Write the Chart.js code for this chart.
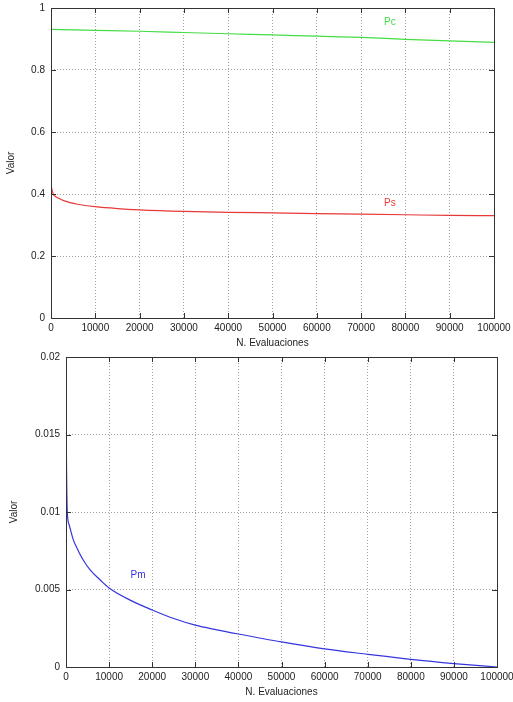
<!DOCTYPE html>
<html>
<head>
<meta charset="utf-8">
<script src="https://cdn.jsdelivr.net/npm/chart.js@4/dist/chart.umd.min.js"></script>
<style>
  html, body { margin: 0; padding: 0; background: #fff; }
  canvas { display: block; }
</style>
</head>
<body>
<canvas id="top" width="513" height="350"></canvas>
<canvas id="bottom" width="513" height="352"></canvas>
<script>
// ---- data ----
const xTicks = [0, 10000, 20000, 30000, 40000, 50000, 60000, 70000, 80000, 90000, 100000];
const xTickLabels = ["0", "10000", "20000", "30000", "40000", "50000", "60000", "70000", "80000", "90000", "100000"];
const yTicksTop = [0, 0.2, 0.4, 0.6, 0.8, 1];
const yTickLabelsTop = ["0", "0.2", "0.4", "0.6", "0.8", "1"];
const yTicksBottom = [0, 0.005, 0.01, 0.015, 0.02];
const yTickLabelsBottom = ["0", "0.005", "0.01", "0.015", "0.02"];

const pcX = [0, 10000, 20000, 30000, 40000, 50000, 60000, 70000, 80000, 90000, 100000];
const pcY = [0.931, 0.928, 0.925, 0.921, 0.917, 0.913, 0.909, 0.905, 0.899, 0.894, 0.889];

const psX = [0, 100, 200, 500, 1000, 1500, 3000, 6000, 10000, 15000, 20000, 30000, 40000, 50000, 60000, 70000, 80000, 90000, 100000];
const psY = [0.452, 0.425, 0.415, 0.400, 0.392, 0.388, 0.378, 0.367, 0.359, 0.353, 0.349, 0.344, 0.341, 0.339, 0.337, 0.335, 0.333, 0.331, 0.330];

const pmX = [0, 100, 300, 700, 1000, 1700, 2500, 4000, 5500, 8000, 10000, 15000, 20000, 25000, 30000, 35000, 40000, 50000, 60000, 70000, 80000, 90000, 100000];
const pmY = [0.0172, 0.0135, 0.0100, 0.0092, 0.0089, 0.0082, 0.0077, 0.0069, 0.0063, 0.0056, 0.0051, 0.0043, 0.00368, 0.00313, 0.00270, 0.00240, 0.00213, 0.00162, 0.00117, 0.00082, 0.00049, 0.00022, 0.0];

const seriesNames = ["Pc", "Ps", "Pm"];
const xTitle = "N. Evaluaciones";
const yTitle = "Valor";

// ---- helpers ----
const toPoints = (xs, ys) => xs.map((x, i) => ({ x: x, y: ys[i] }));
const labelFor = (vals, labels) => (v) => {
  const i = vals.findIndex(t => Math.abs(t - v) < 1e-9);
  return i >= 0 ? labels[i] : '';
};

Chart.defaults.font.family = "'Liberation Sans', Arial, sans-serif";
Chart.defaults.font.size = 10;
Chart.defaults.color = '#222';

const framePlugin = {
  id: 'frame',
  afterDatasetsDraw(chart, args, opts) {
    const { ctx, chartArea: a } = chart;
    const xs = chart.scales.x, ys = chart.scales.y;
    ctx.save();
    ctx.strokeStyle = '#333';
    ctx.lineWidth = 1;
    ctx.setLineDash([]);
    ctx.beginPath();
    const t = 5;
    xs.ticks.forEach(tk => {
      const px = Math.round(xs.getPixelForValue(tk.value)) + 0.5;
      ctx.moveTo(px, a.bottom); ctx.lineTo(px, a.bottom - t);
      ctx.moveTo(px, a.top); ctx.lineTo(px, a.top + t);
    });
    ys.ticks.forEach(tk => {
      const py = Math.round(ys.getPixelForValue(tk.value)) + 0.5;
      ctx.moveTo(a.left, py); ctx.lineTo(a.left + t, py);
      ctx.moveTo(a.right, py); ctx.lineTo(a.right - t, py);
    });
    ctx.stroke();
    ctx.strokeRect(Math.round(a.left) + 0.5, Math.round(a.top) + 0.5,
                   Math.round(a.right - a.left), Math.round(a.bottom - a.top));
    // series labels placed in data space
    (opts.labels || []).forEach(l => {
      ctx.fillStyle = l.color;
      ctx.font = "10px 'Liberation Sans', Arial, sans-serif";
      ctx.textAlign = 'center';
      ctx.textBaseline = 'middle';
      ctx.fillText(l.text, xs.getPixelForValue(l.x), ys.getPixelForValue(l.y));
    });
    ctx.restore();
  }
};

function makeChart(id, datasets, yMax, yStep, yVals, yLabels, cfg) {
  return new Chart(document.getElementById(id), {
    type: 'line',
    data: { datasets: datasets },
    plugins: [framePlugin],
    options: {
      responsive: false,
      animation: false,
      layout: { padding: { top: cfg.padTop, right: cfg.padRight, left: 0, bottom: 0 } },
      plugins: {
        legend: { display: false },
        tooltip: { enabled: false },
        frame: { labels: cfg.labels }
      },
      elements: { point: { radius: 0 }, line: { borderWidth: 1.2, cubicInterpolationMode: 'monotone' } },
      scales: {
        x: {
          type: 'linear', min: 0, max: 100000,
          afterFit: s => { s.height = cfg.xHeight; s.paddingLeft = 0; s.paddingRight = 0; },
          ticks: { stepSize: 10000, padding: 4, maxRotation: 0, autoSkip: false,
                   callback: labelFor(xTicks, xTickLabels) },
          grid: { color: '#a0a0a0', lineWidth: 1, drawTicks: false },
          border: { display: false, dash: [1, 2] },
          title: { display: true, text: xTitle, padding: { top: 0, bottom: cfg.xTitlePad } }
        },
        y: {
          type: 'linear', min: 0, max: yMax,
          afterFit: s => { s.width = cfg.yWidth; s.paddingTop = 0; s.paddingBottom = 0; },
          ticks: { stepSize: yStep, padding: 6, autoSkip: false,
                   callback: labelFor(yVals, yLabels) },
          grid: { color: '#a0a0a0', lineWidth: 1, drawTicks: false },
          border: { display: false, dash: [1, 2] },
          title: { display: true, text: yTitle, padding: { top: cfg.yTitlePad, bottom: 0 } }
        }
      }
    }
  });
}

makeChart('top', [
  { label: seriesNames[0], data: toPoints(pcX, pcY), borderColor: '#44dd44', fill: false },
  { label: seriesNames[1], data: toPoints(psX, psY), borderColor: '#e83838', fill: false }
], 1, 0.2, yTicksTop, yTickLabelsTop, {
  padTop: 8, padRight: 19, xHeight: 32, yWidth: 51, xTitlePad: 1, yTitlePad: 5,
  labels: [
    { text: seriesNames[0], x: 76500, y: 0.955, color: '#44dd44' },
    { text: seriesNames[1], x: 76500, y: 0.371, color: '#e83838' }
  ]
});

makeChart('bottom', [
  { label: seriesNames[2], data: toPoints(pmX, pmY), borderColor: '#3535dd', fill: false }
], 0.02, 0.005, yTicksBottom, yTickLabelsBottom, {
  padTop: 7, padRight: 16, xHeight: 35, yWidth: 66, xTitlePad: 4, yTitlePad: 8,
  labels: [
    { text: seriesNames[2], x: 16700, y: 0.00594, color: '#3535dd' }
  ]
});
</script>
</body>
</html>
